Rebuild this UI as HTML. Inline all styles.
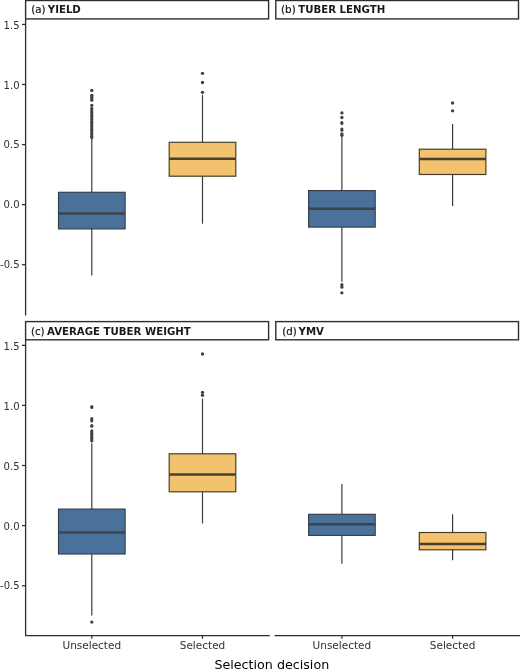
<!DOCTYPE html>
<html><head><meta charset="utf-8"><title>Selection decision boxplots</title>
<style>
html,body{margin:0;padding:0;background:#fff;}
svg{display:block;}
text{font-family:"DejaVu Sans","Liberation Sans",sans-serif;}
.ax{font-size:10.5px;fill:#303030;}
.ay{font-size:10.05px;fill:#303030;}
.st{font-size:10.3px;fill:#1a1a1a;stroke:#1a1a1a;stroke-width:0.22px;}
.b{font-weight:bold;font-size:10.2px;stroke:none;}
.ti{font-size:12.7px;fill:#000;}
</style></head><body>
<svg width="520" height="669" viewBox="0 0 520 669">
<rect width="520" height="669" fill="#fff"/>
<rect x="25.6" y="0.5" width="243.00" height="18.40" fill="#fff" stroke="#2e2e2e" stroke-width="1.4"/>
<text x="31.30" y="12.8" class="st">(a) <tspan class="b" dx="-1.17">YIELD</tspan></text>
<line x1="91.8" x2="91.8" y1="139.0" y2="275.6" stroke="#3a3a3a" stroke-width="1.18"/>
<rect x="58.50" y="192.3" width="66.60" height="36.60" fill="#4A7199" stroke="#36404c" stroke-width="1.18"/>
<line x1="58.50" x2="125.10" y1="213.4" y2="213.4" stroke="#3b434d" stroke-width="2.5"/>
<circle cx="91.8" cy="90.4" r="1.65" fill="#404040"/>
<circle cx="91.8" cy="95.3" r="1.65" fill="#404040"/>
<circle cx="91.8" cy="97.0" r="1.65" fill="#404040"/>
<circle cx="91.8" cy="98.6" r="1.65" fill="#404040"/>
<circle cx="91.8" cy="100.2" r="1.65" fill="#404040"/>
<circle cx="91.8" cy="105.3" r="1.65" fill="#404040"/>
<circle cx="91.8" cy="108.3" r="1.5" fill="#404040"/>
<circle cx="91.8" cy="109.7" r="1.5" fill="#404040"/>
<circle cx="91.8" cy="111.1" r="1.5" fill="#404040"/>
<circle cx="91.8" cy="112.5" r="1.5" fill="#404040"/>
<circle cx="91.8" cy="113.9" r="1.5" fill="#404040"/>
<circle cx="91.8" cy="115.3" r="1.5" fill="#404040"/>
<circle cx="91.8" cy="116.7" r="1.5" fill="#404040"/>
<circle cx="91.8" cy="118.1" r="1.5" fill="#404040"/>
<circle cx="91.8" cy="119.5" r="1.5" fill="#404040"/>
<circle cx="91.8" cy="120.9" r="1.5" fill="#404040"/>
<circle cx="91.8" cy="122.3" r="1.5" fill="#404040"/>
<circle cx="91.8" cy="123.7" r="1.5" fill="#404040"/>
<circle cx="91.8" cy="125.1" r="1.5" fill="#404040"/>
<circle cx="91.8" cy="126.5" r="1.5" fill="#404040"/>
<circle cx="91.8" cy="127.9" r="1.5" fill="#404040"/>
<circle cx="91.8" cy="129.3" r="1.5" fill="#404040"/>
<circle cx="91.8" cy="130.7" r="1.5" fill="#404040"/>
<circle cx="91.8" cy="132.1" r="1.5" fill="#404040"/>
<circle cx="91.8" cy="133.5" r="1.5" fill="#404040"/>
<circle cx="91.8" cy="134.9" r="1.5" fill="#404040"/>
<circle cx="91.8" cy="136.3" r="1.5" fill="#404040"/>
<circle cx="91.8" cy="137.7" r="1.5" fill="#404040"/>
<line x1="202.5" x2="202.5" y1="94.8" y2="223.7" stroke="#3a3a3a" stroke-width="1.18"/>
<rect x="169.20" y="142.3" width="66.60" height="33.90" fill="#F3C26E" stroke="#463c2c" stroke-width="1.18"/>
<line x1="169.20" x2="235.80" y1="158.8" y2="158.8" stroke="#483f31" stroke-width="2.5"/>
<circle cx="202.5" cy="73.3" r="1.65" fill="#404040"/>
<circle cx="202.5" cy="82.5" r="1.65" fill="#404040"/>
<circle cx="202.5" cy="92.3" r="1.65" fill="#404040"/>
<line x1="25.6" x2="25.6" y1="18.9" y2="315.4" stroke="#2e2e2e" stroke-width="1.3"/>
<line x1="22.0" x2="25.6" y1="24.45" y2="24.45" stroke="#2e2e2e" stroke-width="1.25"/>
<text x="19.6" y="29.05" class="ay" text-anchor="end">1.5</text>
<line x1="22.0" x2="25.6" y1="84.5" y2="84.5" stroke="#2e2e2e" stroke-width="1.25"/>
<text x="19.6" y="89.05" class="ay" text-anchor="end">1.0</text>
<line x1="22.0" x2="25.6" y1="144.6" y2="144.6" stroke="#2e2e2e" stroke-width="1.25"/>
<text x="19.6" y="148.15" class="ay" text-anchor="end">0.5</text>
<line x1="22.0" x2="25.6" y1="204.65" y2="204.65" stroke="#2e2e2e" stroke-width="1.25"/>
<text x="19.6" y="208.20" class="ay" text-anchor="end">0.0</text>
<line x1="22.0" x2="25.6" y1="264.7" y2="264.7" stroke="#2e2e2e" stroke-width="1.25"/>
<text x="19.6" y="268.20" class="ay" text-anchor="end">-0.5</text>
<rect x="275.8" y="0.5" width="242.70" height="18.40" fill="#fff" stroke="#2e2e2e" stroke-width="1.4"/>
<text x="281.10" y="12.8" class="st">(b) <tspan class="b" dx="-0.67">TUBER LENGTH</tspan></text>
<line x1="341.9" x2="341.9" y1="136.3" y2="281.8" stroke="#3a3a3a" stroke-width="1.18"/>
<rect x="308.60" y="190.6" width="66.60" height="36.50" fill="#4A7199" stroke="#36404c" stroke-width="1.18"/>
<line x1="308.60" x2="375.20" y1="208.7" y2="208.7" stroke="#3b434d" stroke-width="2.5"/>
<circle cx="341.9" cy="112.9" r="1.65" fill="#404040"/>
<circle cx="341.9" cy="117.5" r="1.65" fill="#404040"/>
<circle cx="341.9" cy="122.5" r="1.5" fill="#404040"/>
<circle cx="341.9" cy="123.4" r="1.5" fill="#404040"/>
<circle cx="341.9" cy="128.9" r="1.5" fill="#404040"/>
<circle cx="341.9" cy="130.3" r="1.5" fill="#404040"/>
<circle cx="341.9" cy="133.8" r="1.65" fill="#404040"/>
<circle cx="341.9" cy="135.3" r="1.65" fill="#404040"/>
<circle cx="341.9" cy="284.5" r="1.5" fill="#404040"/>
<circle cx="341.9" cy="285.8" r="1.5" fill="#404040"/>
<circle cx="341.9" cy="287.2" r="1.5" fill="#404040"/>
<circle cx="341.9" cy="292.8" r="1.65" fill="#404040"/>
<line x1="452.6" x2="452.6" y1="124.0" y2="205.9" stroke="#3a3a3a" stroke-width="1.18"/>
<rect x="419.30" y="149.2" width="66.60" height="25.30" fill="#F3C26E" stroke="#463c2c" stroke-width="1.18"/>
<line x1="419.30" x2="485.90" y1="158.9" y2="158.9" stroke="#483f31" stroke-width="2.5"/>
<circle cx="452.6" cy="103.0" r="1.65" fill="#404040"/>
<circle cx="452.6" cy="110.8" r="1.65" fill="#404040"/>
<rect x="25.6" y="321.6" width="243.00" height="18.20" fill="#fff" stroke="#2e2e2e" stroke-width="1.4"/>
<text x="30.90" y="334.7" class="st">(c) <tspan class="b" dx="-0.87">AVERAGE TUBER WEIGHT</tspan></text>
<line x1="91.8" x2="91.8" y1="443.2" y2="615.5" stroke="#3a3a3a" stroke-width="1.18"/>
<rect x="58.50" y="509.1" width="66.60" height="44.90" fill="#4A7199" stroke="#36404c" stroke-width="1.18"/>
<line x1="58.50" x2="125.10" y1="532.4" y2="532.4" stroke="#3b434d" stroke-width="2.5"/>
<circle cx="91.8" cy="406.6" r="1.5" fill="#404040"/>
<circle cx="91.8" cy="407.4" r="1.5" fill="#404040"/>
<circle cx="91.8" cy="418.4" r="1.5" fill="#404040"/>
<circle cx="91.8" cy="419.8" r="1.5" fill="#404040"/>
<circle cx="91.8" cy="421.0" r="1.5" fill="#404040"/>
<circle cx="91.8" cy="425.5" r="1.5" fill="#404040"/>
<circle cx="91.8" cy="426.3" r="1.5" fill="#404040"/>
<circle cx="91.8" cy="430.7" r="1.5" fill="#404040"/>
<circle cx="91.8" cy="432.0" r="1.5" fill="#404040"/>
<circle cx="91.8" cy="433.3" r="1.5" fill="#404040"/>
<circle cx="91.8" cy="434.6" r="1.5" fill="#404040"/>
<circle cx="91.8" cy="435.9" r="1.5" fill="#404040"/>
<circle cx="91.8" cy="437.2" r="1.5" fill="#404040"/>
<circle cx="91.8" cy="438.5" r="1.5" fill="#404040"/>
<circle cx="91.8" cy="439.8" r="1.5" fill="#404040"/>
<circle cx="91.8" cy="441.1" r="1.5" fill="#404040"/>
<circle cx="91.8" cy="622.1" r="1.65" fill="#404040"/>
<line x1="202.5" x2="202.5" y1="398.6" y2="523.5" stroke="#3a3a3a" stroke-width="1.18"/>
<rect x="169.20" y="453.8" width="66.60" height="38.00" fill="#F3C26E" stroke="#463c2c" stroke-width="1.18"/>
<line x1="169.20" x2="235.80" y1="474.6" y2="474.6" stroke="#483f31" stroke-width="2.5"/>
<circle cx="202.5" cy="354.0" r="1.65" fill="#404040"/>
<circle cx="202.5" cy="392.4" r="1.65" fill="#404040"/>
<circle cx="202.5" cy="395.3" r="1.65" fill="#404040"/>
<line x1="25.6" x2="25.6" y1="339.8" y2="635.5" stroke="#2e2e2e" stroke-width="1.3"/>
<line x1="22.0" x2="25.6" y1="345.35" y2="345.35" stroke="#2e2e2e" stroke-width="1.25"/>
<text x="19.6" y="349.90" class="ay" text-anchor="end">1.5</text>
<line x1="22.0" x2="25.6" y1="405.4" y2="405.4" stroke="#2e2e2e" stroke-width="1.25"/>
<text x="19.6" y="409.95" class="ay" text-anchor="end">1.0</text>
<line x1="22.0" x2="25.6" y1="465.5" y2="465.5" stroke="#2e2e2e" stroke-width="1.25"/>
<text x="19.6" y="469.95" class="ay" text-anchor="end">0.5</text>
<line x1="22.0" x2="25.6" y1="525.6" y2="525.6" stroke="#2e2e2e" stroke-width="1.25"/>
<text x="19.6" y="529.90" class="ay" text-anchor="end">0.0</text>
<line x1="22.0" x2="25.6" y1="585.8" y2="585.8" stroke="#2e2e2e" stroke-width="1.25"/>
<text x="19.6" y="589.40" class="ay" text-anchor="end">-0.5</text>
<line x1="24.95" x2="269.80" y1="635.55" y2="635.55" stroke="#2e2e2e" stroke-width="1.2"/>
<line x1="91.8" x2="91.8" y1="635.5" y2="638.7" stroke="#2e2e2e" stroke-width="1.25"/>
<text x="91.8" y="648.9" class="ax" text-anchor="middle">Unselected</text>
<line x1="202.5" x2="202.5" y1="635.5" y2="638.7" stroke="#2e2e2e" stroke-width="1.25"/>
<text x="202.5" y="648.9" class="ax" text-anchor="middle">Selected</text>
<rect x="275.8" y="321.6" width="242.70" height="18.20" fill="#fff" stroke="#2e2e2e" stroke-width="1.4"/>
<text x="282.30" y="334.7" class="st">(d) <tspan class="b" dx="-1.57">YMV</tspan></text>
<line x1="341.9" x2="341.9" y1="484.0" y2="563.8" stroke="#3a3a3a" stroke-width="1.18"/>
<rect x="308.60" y="514.3" width="66.60" height="21.10" fill="#4A7199" stroke="#36404c" stroke-width="1.18"/>
<line x1="308.60" x2="375.20" y1="524.2" y2="524.2" stroke="#3b434d" stroke-width="2.5"/>
<line x1="452.6" x2="452.6" y1="514.3" y2="560.3" stroke="#3a3a3a" stroke-width="1.18"/>
<rect x="419.30" y="532.5" width="66.60" height="17.30" fill="#F3C26E" stroke="#463c2c" stroke-width="1.18"/>
<line x1="419.30" x2="485.90" y1="544.0" y2="544.0" stroke="#483f31" stroke-width="2.5"/>
<line x1="274.50" x2="520.20" y1="635.55" y2="635.55" stroke="#2e2e2e" stroke-width="1.2"/>
<line x1="341.9" x2="341.9" y1="635.5" y2="638.7" stroke="#2e2e2e" stroke-width="1.25"/>
<text x="341.9" y="648.9" class="ax" text-anchor="middle">Unselected</text>
<line x1="452.6" x2="452.6" y1="635.5" y2="638.7" stroke="#2e2e2e" stroke-width="1.25"/>
<text x="452.6" y="648.9" class="ax" text-anchor="middle">Selected</text>
<text x="271.8" y="668.8" class="ti" text-anchor="middle">Selection decision</text>
</svg>
</body></html>
